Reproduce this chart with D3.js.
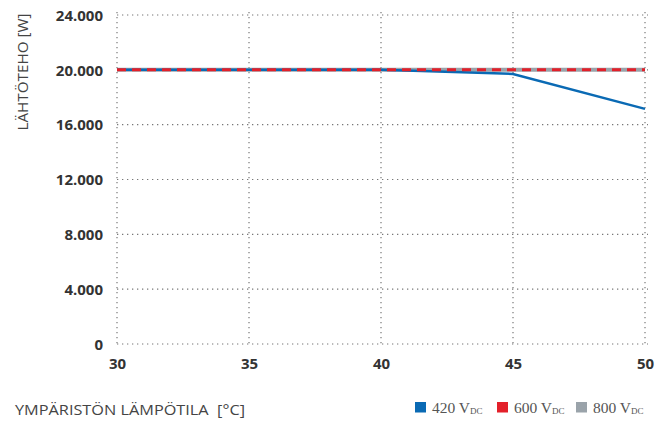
<!DOCTYPE html>
<html><head><meta charset="utf-8">
<script src="https://cdn.jsdelivr.net/npm/d3@7"></script>
<style>body{margin:0;background:#fff;}</style>
</head><body>
<svg id="c" width="668" height="422"></svg>
<script>
const temps = [30, 35, 40, 45, 50];
const v420 = [20000, 20000, 20000, 19700, 17150];
const v600 = [20000, 20000, 20000, 20000, 20000];
const v800 = [20000, 20000, 20000, 20000, 20000];
const yTicks = [0, 4000, 8000, 12000, 16000, 20000, 24000];
const yTickLabels = ["0", "4.000", "8.000", "12.000", "16.000", "20.000", "24.000"];
const seriesNames = ["420", "600", "800"];
const seriesColors = ["#0a6ab4", "#e3202a", "#9aa3aa"];

const svg = d3.select("#c");
const x = d3.scaleLinear().domain([30, 50]).range([117, 645]);
const y = d3.scaleLinear().domain([0, 24000]).range([344, 15]);

// grid
const g = svg.append("g");
g.selectAll(".h").data(yTicks).enter().append("line")
  .attr("x1", 117).attr("x2", 648).attr("y1", d => y(d)).attr("y2", d => y(d))
  .attr("stroke", "#777").attr("stroke-width", 1.2).attr("stroke-dasharray", "1.3,3.7");
g.selectAll(".v").data(temps).enter().append("line")
  .attr("x1", d => x(d)).attr("x2", d => x(d)).attr("y1", 12).attr("y2", 344)
  .attr("stroke", "#777").attr("stroke-width", 1.2).attr("stroke-dasharray", "1.3,3.7");

// axes labels
const yAxis = d3.axisLeft(y).tickValues(yTicks).tickSize(0).tickPadding(14)
  .tickFormat((d, i) => yTickLabels[i]);
const ya = svg.append("g").attr("transform", "translate(117,0)").call(yAxis);
ya.select(".domain").remove();
ya.selectAll("text").attr("font-family", "'Open Sans', sans-serif").attr("font-weight", "bold")
  .attr("font-size", 15).attr("fill", "#333").attr("dy", "0.35em");

const xAxis = d3.axisBottom(x).tickValues(temps).tickSize(0).tickPadding(14).tickFormat(d => d);
const xa = svg.append("g").attr("transform", "translate(0,344)").call(xAxis);
xa.select(".domain").remove();
xa.selectAll("text").attr("font-family", "'Open Sans', sans-serif").attr("font-weight", "bold")
  .attr("font-size", 15).attr("fill", "#333");

// lines
const line = d3.line().x((d, i) => x(temps[i])).y(d => y(d));
svg.append("path").datum(v800).attr("d", line).attr("fill", "none")
  .attr("stroke", seriesColors[2]).attr("stroke-width", 4);
svg.append("path").datum(v420).attr("d", line).attr("fill", "none")
  .attr("stroke", seriesColors[0]).attr("stroke-width", 2.5);
svg.append("path").datum(v600).attr("d", line).attr("fill", "none")
  .attr("stroke", seriesColors[1]).attr("stroke-width", 3).attr("stroke-dasharray", "9,6");

// axis titles
svg.append("text").attr("transform", "translate(28,72) rotate(-90)")
  .attr("text-anchor", "middle").attr("font-family", "'Open Sans', sans-serif")
  .attr("font-size", 14).attr("fill", "#444").attr("textLength", 117).attr("lengthAdjust", "spacingAndGlyphs")
  .text("LÄHTÖTEHO [W]");
svg.append("text").attr("x", 15).attr("y", 415).style("white-space", "pre")
  .attr("font-family", "'Open Sans', sans-serif").attr("font-size", 14).attr("fill", "#444")
  .attr("textLength", 230).attr("lengthAdjust", "spacingAndGlyphs")
  .text("YMPÄRISTÖN LÄMPÖTILA  [°C]");

// legend
const legX = [415, 497, 576];
const lg = svg.append("g");
seriesNames.forEach((n, i) => {
  lg.append("rect").attr("x", legX[i]).attr("y", 402).attr("width", 11).attr("height", 10.5)
    .attr("fill", seriesColors[i]);
  const t = lg.append("text").attr("x", legX[i] + 17).attr("y", 413)
    .attr("font-family", "'Liberation Serif', serif").attr("font-size", 15.5).attr("fill", "#555");
  t.append("tspan").text(n + " V");
  t.append("tspan").attr("font-size", 9).attr("dy", 1).text("DC");
});
</script>
</body></html>
